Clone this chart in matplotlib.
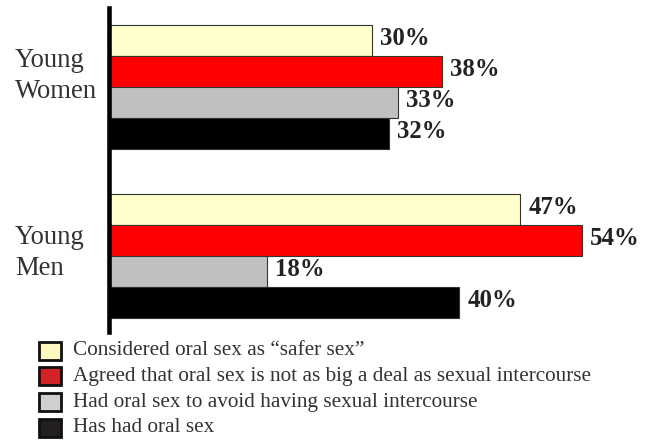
import matplotlib

matplotlib.use("Agg")
import matplotlib.pyplot as plt
from matplotlib.patches import Rectangle

plt.rcParams["font.family"] = ["Liberation Serif", "DejaVu Serif"]

groups = ["Young\nWomen", "Young\nMen"]
series = [
    "Considered oral sex as \u201csafer sex\u201d",
    "Agreed that oral sex is not as big a deal as sexual intercourse",
    "Had oral sex to avoid having sexual intercourse",
    "Has had oral sex",
]
# percent per series, [women, men]
safer_sex = [30, 47]
not_big_deal = [38, 54]
avoid_intercourse = [33, 18]
has_had = [32, 40]
values = [safer_sex, not_big_deal, avoid_intercourse, has_had]

bar_colors = ["#FFFFCC", "#FF0000", "#C0C0C0", "#000000"]
key_colors = ["#FFF8C0", "#D42229", "#CFCFCF", "#231F20"]

W, H = 652, 441
fig = plt.figure(figsize=(W / 100, H / 100), dpi=100)
ax = fig.add_axes([109 / W, 1 - 332 / H, (650 - 109) / W, (332 - 8) / H])

bh = 31 / 169
offsets = [-1.5 * bh, -0.5 * bh, 0.5 * bh, 1.5 * bh]
for vals, off, col in zip(values, offsets, bar_colors):
    ys = [g + off for g in range(len(groups))]
    bars = ax.barh(ys, vals, height=bh, color=col, edgecolor="#333333", linewidth=0.8)
    for b, v in zip(bars, vals):
        ax.annotate(f"{v}%", (v, b.get_y() + bh / 2), xytext=(6, 1), textcoords="offset points",
                    ha="left", va="center", fontsize=17.8, fontweight="bold", color="#222222")

ax.set_xlim(0, (650 - 109) / 8.75)
ax.set_ylim((332 - 86.5) / 169, (8 - 86.5) / 169)
for s in ("top", "right", "bottom"):
    ax.spines[s].set_visible(False)
ax.spines["left"].set_linewidth(3.3)
ax.spines["left"].set_color("#000000")
ax.set_xticks([])
ax.set_yticks([])

# group names to the left of the axis line
for label, yc in zip(groups, [76, 253]):
    fig.text(15 / W, 1 - yc / H, label, ha="left", va="center", fontsize=19.2,
             color="#333333", linespacing=1.35)

# key below the plot
for i, (name, col) in enumerate(zip(series, key_colors)):
    yc = 350.5 + i * 25.8
    fig.add_artist(Rectangle((39 / W, 1 - (yc + 9) / H), 22 / W, 18 / H, transform=fig.transFigure,
                             facecolor=col, edgecolor="#111111", linewidth=2))
    fig.text(73 / W, 1 - yc / H, name, ha="left", va="center", fontsize=15.3, color="#333333")

fig.savefig("out.png", dpi=100)
